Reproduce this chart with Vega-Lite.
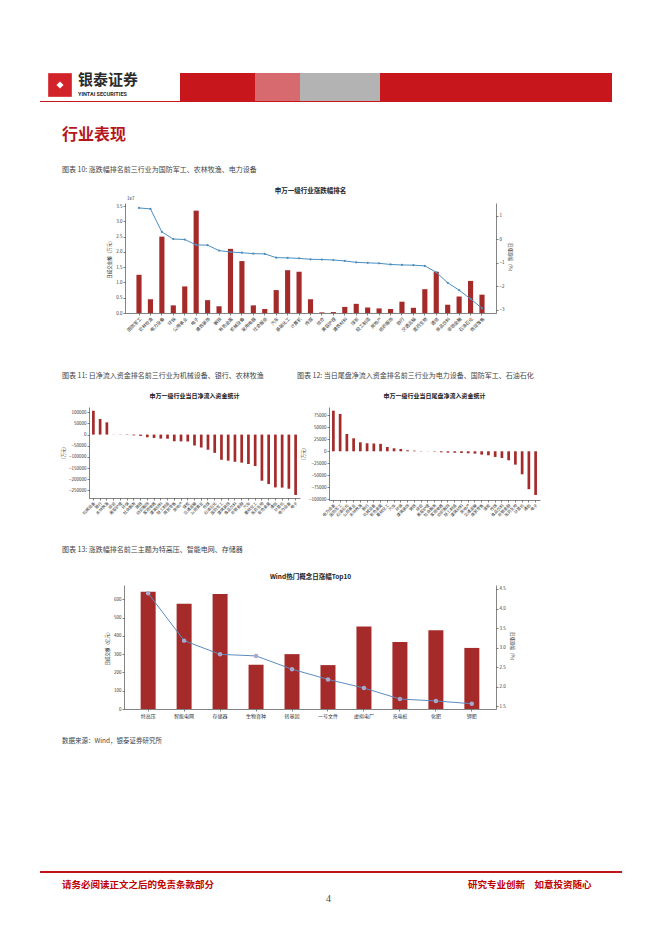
{
"$schema": "https://vega.github.io/schema/vega-lite/v6.json",
"padding": 0,
"background": "white",
"columns": 1,
"spacing": 0,
"align": "each",
"concat": [
{"width":1,"height":73,"data":{"values":[]},"mark":"point"},

{"columns":5,"spacing":0,"bounds":"flush","align":"none","concat":[
 {"width":180,"height":28,"data":{"values":[{}]},"layer":[
  {"mark":{"type":"square","size":560,"color":"#d2232a","filled":true,"opacity":1,"xOffset":-30,"yOffset":-2}},
  {"mark":{"type":"point","shape":"diamond","size":50,"color":"white","filled":true,"opacity":1,"xOffset":-30,"yOffset":-2}},
  {"mark":{"type":"text","text":"银泰证券","align":"left","baseline":"middle","dx":-12,"dy":-7,"fontSize":15,"fontWeight":"bold","color":"#2b2b2b"}},
  {"mark":{"type":"text","text":"YINTAI SECURITIES","align":"left","baseline":"middle","dx":-12,"dy":7,"fontSize":5.5,"fontWeight":"bold","color":"#2b2b2b","font":"Roboto"}}
 ]},
 {"width":75,"height":28,"view":{"fill":"#c8161d","stroke":null},"data":{"values":[]},"mark":"point"},
 {"width":45,"height":28,"view":{"fill":"#d66a6f","stroke":null},"data":{"values":[]},"mark":"point"},
 {"width":80,"height":28,"view":{"fill":"#b3b3b3","stroke":null},"data":{"values":[]},"mark":"point"},
 {"width":232,"height":28,"view":{"fill":"#c8161d","stroke":null},"data":{"values":[]},"mark":"point"}
]},

{"columns":2,"spacing":0,"bounds":"flush","align":"none","concat":[
 {"width":40,"height":1,"data":{"values":[]},"mark":"point"},
 {"width":572,"height":1,"view":{"fill":"#c8161d","stroke":null},"data":{"values":[]},"mark":"point"}
]},

{"width":1,"height":101,"data":{"values":[{}]},"layer":[
 {"mark":{"type":"text","text":"行业表现","align":"left","baseline":"middle","dx":61.5,"dy":-17.5,"fontSize":16,"fontWeight":"bold","color":"#b5161c"}},
 {"mark":{"type":"text","text":"图表 10: 涨跌幅排名前三行业为国防军工、农林牧渔、电力设备","align":"left","baseline":"middle","dx":61.5,"dy":17.5,"fontSize":7,"color":"#444"}},
 {"mark":{"type":"text","text":"申万一级行业涨跌幅排名","align":"center","baseline":"middle","dx":310,"dy":38.5,"fontSize":6.5,"fontWeight":"bold","color":"#222"}},
 {"mark":{"type":"text","text":"1e7","align":"left","baseline":"middle","dx":126.5,"dy":46,"fontSize":4.5,"color":"#333"}}
]},

{"columns":2,"spacing":0,"bounds":"flush","align":"none","concat":[
 {"width":125,"height":166,"data":{"values":[]},"mark":"point"},
 {"width":371,"height":110,
  "data":{"values":[
   {"industry":"国防军工","amount":12500000,"chg":1.33},
   {"industry":"农林牧渔","amount":4500000,"chg":1.29},
   {"industry":"电力设备","amount":25000000,"chg":0.31},
   {"industry":"环保","amount":2500000,"chg":0.01},
   {"industry":"公用事业","amount":8700000,"chg":-0.01},
   {"industry":"电子","amount":33500000,"chg":-0.24},
   {"industry":"建筑装饰","amount":4200000,"chg":-0.25},
   {"industry":"钢铁","amount":2200000,"chg":-0.48},
   {"industry":"有色金属","amount":21000000,"chg":-0.54},
   {"industry":"机械设备","amount":17000000,"chg":-0.57},
   {"industry":"家用电器","amount":2500000,"chg":-0.61},
   {"industry":"社会服务","amount":1300000,"chg":-0.62},
   {"industry":"汽车","amount":7500000,"chg":-0.78},
   {"industry":"基础化工","amount":14000000,"chg":-0.79},
   {"industry":"计算机","amount":13500000,"chg":-0.81},
   {"industry":"传媒","amount":4500000,"chg":-0.85},
   {"industry":"综合","amount":200000,"chg":-0.86},
   {"industry":"美容护理","amount":300000,"chg":-0.88},
   {"industry":"建筑材料","amount":2000000,"chg":-0.92},
   {"industry":"煤炭","amount":3000000,"chg":-0.98},
   {"industry":"轻工制造","amount":1800000,"chg":-1.0},
   {"industry":"房地产","amount":1500000,"chg":-1.02},
   {"industry":"纺织服饰","amount":1300000,"chg":-1.07},
   {"industry":"银行","amount":3700000,"chg":-1.09},
   {"industry":"交通运输","amount":1700000,"chg":-1.10},
   {"industry":"医药生物","amount":7800000,"chg":-1.13},
   {"industry":"通信","amount":13500000,"chg":-1.40},
   {"industry":"食品饮料","amount":2700000,"chg":-1.85},
   {"industry":"非银金融","amount":5400000,"chg":-2.16},
   {"industry":"石油石化","amount":10500000,"chg":-2.53},
   {"industry":"商贸零售","amount":6000000,"chg":-2.93}
  ]},
  "encoding":{"x":{"field":"industry","type":"nominal","sort":null,"scale":{"paddingInner":0.55,"paddingOuter":1.37},"axis":{"title":null,"labelAngle":-45,"labelAlign":"right","labelBaseline":"top","labelOverlap":false,"labelFontSize":4.5}}},
  "layer":[
   {"mark":{"type":"bar","color":"#a52a2a"},"encoding":{"y":{"field":"amount","type":"quantitative","scale":{"domain":[0,36000000],"nice":false},"axis":{"orient":"left","values":[0,5000000,10000000,15000000,20000000,25000000,30000000,35000000],"labelExpr":"format(datum.value/10000000,'.1f')","title":"日成交金额（万元）","titlePadding":4}}}},
   {"mark":{"type":"line","color":"#4a8fc1","strokeWidth":1,"point":{"filled":true,"size":5,"color":"#4a8fc1"}},"encoding":{"y":{"field":"chg","type":"quantitative","scale":{"domain":[-3.13,1.54],"nice":false,"zero":false},"axis":{"orient":"right","values":[-3,-2,-1,0,1],"title":"日涨跌幅（%）","titlePadding":4}}}}
  ],
  "resolve":{"scale":{"y":"independent"},"axis":{"y":"independent"}}
 }
]},

{"width":1,"height":38,"data":{"values":[{}]},"layer":[
 {"mark":{"type":"text","text":"图表 11: 日净流入资金排名前三行业为机械设备、银行、农林牧渔","align":"left","baseline":"middle","dx":61.5,"dy":-12,"fontSize":7,"color":"#444"}},
 {"mark":{"type":"text","text":"图表 12: 当日尾盘净流入资金排名前三行业为电力设备、国防军工、石油石化","align":"left","baseline":"middle","dx":296.5,"dy":-12,"fontSize":7,"color":"#444"}},
 {"mark":{"type":"text","text":"申万一级行业当日净流入资金统计","align":"center","baseline":"middle","dx":194,"dy":8,"fontSize":6,"fontWeight":"bold","color":"#222"}},
 {"mark":{"type":"text","text":"申万一级行业当日尾盘净流入资金统计","align":"center","baseline":"middle","dx":434,"dy":8,"fontSize":6,"fontWeight":"bold","color":"#222"}}
]},

{"columns":4,"spacing":0,"bounds":"flush","align":"none","concat":[
 {"width":89,"height":136,"data":{"values":[]},"mark":"point"},
 {"width":211,"height":91,
  "data":{"values":[
   {"industry":"机械设备","flow":107000},
   {"industry":"银行","flow":70000},
   {"industry":"农林牧渔","flow":55000},
   {"industry":"综合","flow":-600},
   {"industry":"美容护理","flow":-900},
   {"industry":"环保","flow":-1500},
   {"industry":"社会服务","flow":-3500},
   {"industry":"钢铁","flow":-6000},
   {"industry":"纺织服饰","flow":-12000},
   {"industry":"家用电器","flow":-15000},
   {"industry":"建筑材料","flow":-18000},
   {"industry":"轻工制造","flow":-18500},
   {"industry":"商贸零售","flow":-30000},
   {"industry":"房地产","flow":-30500},
   {"industry":"煤炭","flow":-31000},
   {"industry":"交通运输","flow":-49000},
   {"industry":"公用事业","flow":-58000},
   {"industry":"传媒","flow":-68000},
   {"industry":"石油石化","flow":-82000},
   {"industry":"国防军工","flow":-113000},
   {"industry":"建筑装饰","flow":-117000},
   {"industry":"食品饮料","flow":-122000},
   {"industry":"非银金融","flow":-126000},
   {"industry":"汽车","flow":-132000},
   {"industry":"基础化工","flow":-141000},
   {"industry":"医药生物","flow":-207000},
   {"industry":"有色金属","flow":-222000},
   {"industry":"通信","flow":-237000},
   {"industry":"计算机","flow":-238000},
   {"industry":"电力设备","flow":-243000},
   {"industry":"电子","flow":-271000}
  ]},
  "mark":{"type":"bar","color":"#a52a2a"},
  "encoding":{
   "x":{"field":"industry","type":"nominal","sort":null,"scale":{"paddingInner":0.6,"paddingOuter":0.45},"axis":{"title":null,"labelAngle":-45,"labelAlign":"right","labelBaseline":"top","labelOverlap":false,"labelFontSize":4}},
   "y":{"field":"flow","type":"quantitative","scale":{"domain":[-284600,123800],"nice":false},"axis":{"values":[-250000,-200000,-150000,-100000,-50000,0,50000,100000],"format":"d","title":"(万元)","titlePadding":3}}
  }
 },
 {"width":29,"height":0,"data":{"values":[]},"mark":"point"},
 {"width":211,"height":93,
  "data":{"values":[
   {"industry":"电力设备","flow":84700},
   {"industry":"国防军工","flow":77800},
   {"industry":"石油石化","flow":36100},
   {"industry":"公用事业","flow":27100},
   {"industry":"农林牧渔","flow":18750},
   {"industry":"银行","flow":16700},
   {"industry":"机械设备","flow":16000},
   {"industry":"有色金属","flow":15500},
   {"industry":"基础化工","flow":9000},
   {"industry":"汽车","flow":6250},
   {"industry":"环保","flow":4900},
   {"industry":"建筑装饰","flow":2100},
   {"industry":"钢铁","flow":1400},
   {"industry":"综合","flow":500},
   {"industry":"美容护理","flow":-300},
   {"industry":"社会服务","flow":-800},
   {"industry":"家用电器","flow":-2100},
   {"industry":"纺织服饰","flow":-2800},
   {"industry":"轻工制造","flow":-3000},
   {"industry":"建筑材料","flow":-3500},
   {"industry":"房地产","flow":-4200},
   {"industry":"交通运输","flow":-4900},
   {"industry":"商贸零售","flow":-6900},
   {"industry":"煤炭","flow":-8300},
   {"industry":"传媒","flow":-11800},
   {"industry":"食品饮料","flow":-13900},
   {"industry":"非银金融","flow":-18750},
   {"industry":"医药生物","flow":-27800},
   {"industry":"计算机","flow":-47900},
   {"industry":"通信","flow":-79000},
   {"industry":"电子","flow":-91000}
  ]},
  "mark":{"type":"bar","color":"#a52a2a"},
  "encoding":{
   "x":{"field":"industry","type":"nominal","sort":null,"scale":{"paddingInner":0.6,"paddingOuter":0.45},"axis":{"title":null,"labelAngle":-45,"labelAlign":"right","labelBaseline":"top","labelOverlap":false,"labelFontSize":4}},
   "y":{"field":"flow","type":"quantitative","scale":{"domain":[-101500,92300],"nice":false},"axis":{"values":[-100000,-75000,-50000,-25000,0,25000,50000,75000],"format":"d","title":"(万元)","titlePadding":3}}
  }
 }
]},

{"width":1,"height":42,"data":{"values":[{}]},"layer":[
 {"mark":{"type":"text","text":"图表 13: 涨跌幅排名前三主题为特高压、智能电网、存储器","align":"left","baseline":"middle","dx":61.5,"dy":-14,"fontSize":7,"color":"#444"}},
 {"mark":{"type":"text","text":"Wind热门概念日涨幅Top10","align":"center","baseline":"middle","dx":310,"dy":13,"fontSize":6.5,"fontWeight":"bold","color":"#222"}}
]},

{"columns":2,"spacing":0,"bounds":"flush","align":"none","concat":[
 {"width":124,"height":149,"data":{"values":[]},"mark":"point"},
 {"width":372,"height":124,
  "data":{"values":[
   {"concept":"特高压","amount":641,"chg":4.39},
   {"concept":"智能电网","amount":576,"chg":3.18},
   {"concept":"存储器","amount":629,"chg":2.83},
   {"concept":"生物育种","amount":242,"chg":2.79},
   {"concept":"转基因","amount":300,"chg":2.45},
   {"concept":"一号文件","amount":240,"chg":2.19},
   {"concept":"虚拟电厂","amount":451,"chg":1.97},
   {"concept":"充电桩","amount":367,"chg":1.69},
   {"concept":"化肥","amount":431,"chg":1.64},
   {"concept":"钾肥","amount":334,"chg":1.57}
  ]},
  "encoding":{"x":{"field":"concept","type":"nominal","sort":null,"scale":{"paddingInner":0.583,"paddingOuter":0.463},"axis":{"title":null,"labelAngle":0,"labelFontSize":5,"labelPadding":2}}},
  "layer":[
   {"mark":{"type":"bar","color":"#a52a2a"},"encoding":{"y":{"field":"amount","type":"quantitative","scale":{"domain":[0,678],"nice":false},"axis":{"orient":"left","values":[0,100,200,300,400,500,600],"title":"日成交额（亿元）","titlePadding":4,"labelFontSize":4.5}}}},
   {"mark":{"type":"line","color":"#5b8cbf","strokeWidth":1,"point":{"filled":true,"size":20,"color":"#aaa7cc","opacity":1}},"encoding":{"y":{"field":"chg","type":"quantitative","scale":{"domain":[1.435,4.6],"nice":false,"zero":false},"axis":{"orient":"right","values":[1.5,2,2.5,3,3.5,4,4.5],"format":".1f","title":"日涨跌幅（%）","titlePadding":4,"labelFontSize":4.5}}}}
  ],
  "resolve":{"scale":{"y":"independent"},"axis":{"y":"independent"}}
 }
]},

{"width":1,"height":137,"data":{"values":[{}]},"layer":[
 {"mark":{"type":"text","text":"数据来源：Wind，银泰证券研究所","align":"left","baseline":"middle","dx":61.5,"dy":-61.5,"fontSize":6.5,"color":"#444"}}
]},

{"columns":2,"spacing":0,"bounds":"flush","align":"none","concat":[
 {"width":40,"height":2,"data":{"values":[]},"mark":"point"},
 {"width":582,"height":2,"view":{"fill":"#c0141b","stroke":null},"data":{"values":[]},"mark":"point"}
]},

{"width":1,"height":63,"data":{"values":[{}]},"layer":[
 {"mark":{"type":"text","text":"请务必阅读正文之后的免责条款部分","align":"left","baseline":"middle","dx":61.5,"dy":-19.5,"fontSize":9.5,"fontWeight":"bold","color":"#c00000"}},
 {"mark":{"type":"text","text":"研究专业创新　如意投资随心","align":"left","baseline":"middle","dx":467.5,"dy":-19.5,"fontSize":9.5,"fontWeight":"bold","color":"#c00000"}},
 {"mark":{"type":"text","text":"4","align":"center","baseline":"middle","dx":328,"dy":-5.5,"fontSize":10,"color":"#444","font":"Liberation Serif"}}
]}
],
"config": {
 "view": {"stroke": null},
 "font": "Noto Sans CJK SC",
 "title": {"font": "Noto Sans CJK SC", "fontSize": 6.5, "fontWeight": "bold", "color": "#222"},
 "axis": {"labelFont": "Noto Sans CJK SC", "titleFont": "Noto Sans CJK SC", "grid": false, "domainColor": "#333", "tickColor": "#333", "labelColor": "#333", "titleColor": "#333", "labelFontSize": 4.5, "titleFontSize": 4.5, "titleFontWeight": "normal", "tickSize": 2, "domainWidth": 0.6, "tickWidth": 0.6, "labelPadding": 1},
 "text": {"font": "Noto Sans CJK SC"}
}
}
